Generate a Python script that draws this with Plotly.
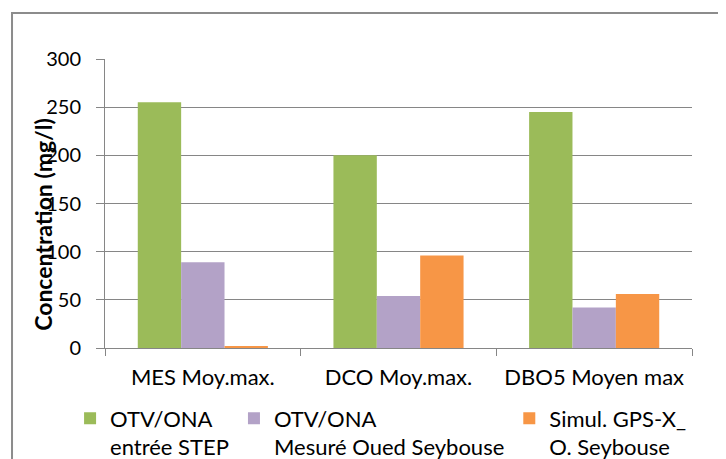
import plotly.graph_objects as go

# categories and series
categories = ["MES Moy.max.", "DCO Moy.max.", "DBO5 Moyen max"]
otv_entree = [255, 200, 245]
otv_oued = [89, 54, 42]
simul_gps = [2, 96, 56]

series_names = [
    "OTV/ONA<br>entrée STEP",
    "OTV/ONA<br>Mesuré Oued Seybouse",
    "Simul. GPS-X_<br>O. Seybouse",
]
series_colors = ["#9BBB59", "#B3A2C7", "#F79646"]

FONT = "Lato, 'Open Sans', Arial, sans-serif"

fig = go.Figure()
for name, vals, col in zip(series_names, [otv_entree, otv_oued, simul_gps], series_colors):
    fig.add_trace(go.Bar(
        x=categories, y=vals, name=name,
        marker=dict(color=col, line=dict(width=0)),
    ))

# page body has an 8px margin, so the figure is a bit smaller than the window
fig.update_layout(
    width=718, height=451,
    margin=dict(l=97, r=34, t=51, b=111, autoexpand=False),
    paper_bgcolor="white", plot_bgcolor="white",
    barmode="group", bargap=0.335, bargroupgap=0,
    font=dict(family=FONT, size=22, color="black"),
    showlegend=True,
    legend=dict(
        orientation="h", x=-0.0595, xanchor="left", y=-0.171, yanchor="top",
        valign="top", font=dict(size=22), traceorder="normal",
        itemwidth=30, tracegroupgap=0,
    ),
    annotations=[dict(
        text="<b>Concentration (mg/l)</b>", textangle=-90,
        xref="paper", yref="paper", x=-0.107, y=0.427,
        xanchor="center", yanchor="middle", showarrow=False,
        font=dict(size=23, family=FONT),
    )],
    shapes=[dict(
        type="rect", xref="paper", yref="paper",
        x0=-0.1584, x1=1.2, y0=-0.6, y1=1.159,
        line=dict(color="#8C8C8C", width=2), layer="below",
    )],
)

fig.update_yaxes(
    range=[0, 300], dtick=50, showgrid=True, gridcolor="#868686", gridwidth=1,
    showline=True, linecolor="#868686", linewidth=1,
    ticks="outside", ticklen=8, tickcolor="#868686",
    ticklabelstandoff=11, zeroline=False, automargin=False,
    tickfont=dict(size=20),
)
fig.update_xaxes(
    showline=True, linecolor="#868686", linewidth=1,
    ticks="outside", ticklen=7, tickcolor="#868686", tickson="boundaries",
    ticklabelstandoff=10, automargin=False,
)

fig.write_html("out.html")
